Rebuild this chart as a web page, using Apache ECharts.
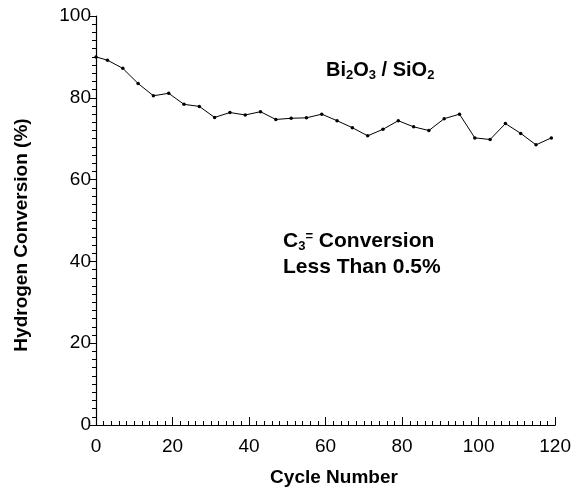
<!DOCTYPE html>
<html>
<head>
<meta charset="utf-8">
<script src="https://cdn.jsdelivr.net/npm/echarts@6/dist/echarts.min.js"></script>
<style>
  html, body { margin: 0; padding: 0; background: #fff; }
  #chart { width: 574px; height: 492px; }
</style>
</head>
<body>
<div id="chart"></div>
<script>
// valores
const ciclos = [0, 3, 7, 11, 15, 19, 23, 27, 31, 35, 39, 43, 47, 51, 55, 59, 63, 67, 71, 75, 79, 83, 87, 91, 95, 99, 103, 107, 111, 115, 119];
const conversionH2 = [90, 89.2, 87.2, 83.5, 80.5, 81.1, 78.4, 77.9, 75.2, 76.4, 75.8, 76.6, 74.7, 75.0, 75.1, 76.0, 74.4, 72.7, 70.7, 72.3, 74.4, 72.9, 72.0, 74.9, 76.0, 70.2, 69.8, 73.7, 71.3, 68.5, 70.2];
const ticksY = [0, 20, 40, 60, 80, 100];
const ticksX = [0, 20, 40, 60, 80, 100, 120];

const myChart = echarts.init(document.getElementById('chart'));
const fuente = 'Liberation Sans, Arial, sans-serif';

const option = {
  animation: false,
  grid: { left: 96, right: 18, top: 16, bottom: 67 },
  xAxis: {
    type: 'value',
    min: ticksX[0],
    max: ticksX[ticksX.length - 1],
    interval: 20,
    axisLine: { lineStyle: { color: '#000', width: 1.2 } },
    axisTick: { inside: true, length: 8, lineStyle: { color: '#000' } },
    minorTick: { show: true, splitNumber: 10, length: 4, lineStyle: { color: '#000' } },
    axisLabel: { fontFamily: fuente, fontSize: 19, color: '#000', margin: 12 },
    splitLine: { show: false }
  },
  yAxis: {
    type: 'value',
    min: ticksY[0],
    max: ticksY[ticksY.length - 1],
    interval: 20,
    axisLine: { show: true, lineStyle: { color: '#000', width: 1.2 } },
    axisTick: { inside: false, length: 6, lineStyle: { color: '#000' } },
    minorTick: { show: true, splitNumber: 10, length: 4, lineStyle: { color: '#000' } },
    axisLabel: { fontFamily: fuente, fontSize: 19, color: '#000', margin: 5 },
    splitLine: { show: false }
  },
  graphic: [
    // titulos de ejes
    {
      type: 'text', x: 22, y: 235, rotation: Math.PI / 2,
      style: {
        text: 'Hydrogen Conversion (%)', fontFamily: fuente, fontSize: 19, fontWeight: 'bold',
        fill: '#000', align: 'center', verticalAlign: 'middle'
      }
    },
    {
      type: 'text', x: 334, y: 478,
      style: {
        text: 'Cycle Number', fontFamily: fuente, fontSize: 19, fontWeight: 'bold',
        fill: '#000', align: 'center', verticalAlign: 'middle'
      }
    },
    {
      type: 'text', left: 326, top: 60,
      style: {
        text: '{b|Bi}{s|2}{b|O}{s|3}{b| / SiO}{s|2}',
        rich: {
          b: { fontFamily: fuente, fontSize: 20, fontWeight: 'bold', fill: '#000', lineHeight: 24 },
          s: { fontFamily: fuente, fontSize: 13, fontWeight: 'bold', fill: '#000', padding: [11, 0, 0, 0] }
        }
      }
    },
    {
      type: 'text', left: 283, top: 230,
      style: {
        text: '{b|C}{s|3}{p|=}{b| Conversion}',
        rich: {
          b: { fontFamily: fuente, fontSize: 21, fontWeight: 'bold', fill: '#000', lineHeight: 25 },
          s: { fontFamily: fuente, fontSize: 13, fontWeight: 'bold', fill: '#000', padding: [11, 0, 0, 0] },
          p: { fontFamily: fuente, fontSize: 13, fontWeight: 'bold', fill: '#000', padding: [0, 0, 9, 0] }
        }
      }
    },
    {
      type: 'text', left: 283, top: 257,
      style: { text: 'Less Than 0.5%', fontFamily: fuente, fontSize: 21, fontWeight: 'bold', fill: '#000' }
    }
  ],
  series: [
    {
      type: 'line',
      data: ciclos.map((c, i) => [c, conversionH2[i]]),
      symbol: 'circle',
      symbolSize: 3.5,
      showSymbol: true,
      itemStyle: { color: '#000' },
      lineStyle: { color: '#000', width: 1 }
    }
  ]
};

myChart.setOption(option);
</script>
</body>
</html>
